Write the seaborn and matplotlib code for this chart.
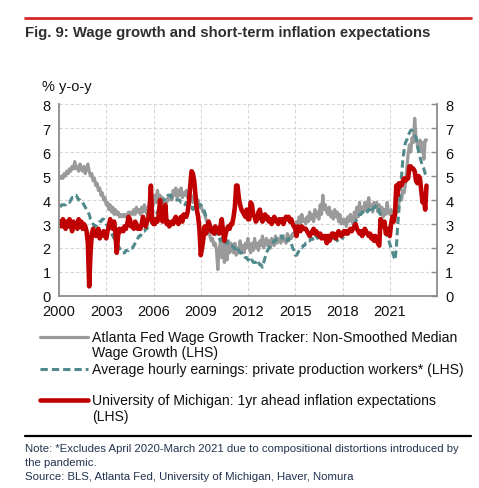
import numpy as np
import pandas as pd
import matplotlib
matplotlib.use("Agg")
import matplotlib.pyplot as plt
from matplotlib.lines import Line2D
import seaborn as sns

# monthly, Jan 2000 - Apr 2023, % y-o-y
atlanta = [
    4.9, 5.0, 4.9, 5.1, 5.0, 5.2, 5.1, 5.3, 5.2, 5.4, 5.3, 5.6,
    5.3, 5.4, 5.2, 5.5, 5.3, 5.2, 5.4, 5.1, 5.3, 5.5, 5.2, 5.0,
    5.1, 4.8, 4.9, 4.6, 4.7, 4.4, 4.5, 4.2, 4.3, 4.0, 4.1, 3.8,
    3.9, 3.6, 3.8, 3.5, 3.7, 3.4, 3.6, 3.4, 3.5, 3.3, 3.4, 3.3,
    3.4, 3.3, 3.4, 3.3, 3.5, 3.4, 3.5, 3.4, 3.6, 3.4, 3.7, 3.5,
    3.6, 3.4, 3.7, 3.5, 3.8, 3.6, 3.4, 3.7, 3.9, 3.6, 4.0, 3.8,
    4.2, 3.9, 4.4, 4.0, 4.2, 3.9, 4.1, 3.8, 4.0, 3.9, 4.1, 4.0,
    4.2, 4.0, 4.4, 4.2, 4.5, 4.1, 4.4, 4.2, 4.5, 4.1, 4.3, 4.2,
    4.4, 4.1, 4.3, 4.0, 4.2, 3.9, 4.1, 4.0, 3.8, 4.0, 3.7, 3.8,
    3.6, 3.5, 3.4, 3.2, 3.0, 2.8, 2.5, 2.3, 2.4, 2.1, 2.2, 1.9,
    1.1, 1.9, 2.3, 1.6, 2.2, 1.4, 2.1, 1.5, 2.3, 1.8, 2.2, 1.9,
    1.8, 2.2, 1.7, 2.0, 1.8, 2.3, 1.9, 2.1, 1.8, 2.2, 2.0, 2.4,
    2.0, 1.8, 2.2, 1.9, 2.4, 2.0, 2.2, 1.9, 2.3, 2.1, 2.5, 2.0,
    2.2, 2.4, 2.1, 2.3, 2.0, 2.4, 2.2, 2.1, 2.5, 2.2, 2.4, 2.3,
    2.2, 2.5, 2.3, 2.4, 2.2, 2.6, 2.3, 2.5, 2.4, 2.6, 2.5, 2.7,
    3.1, 2.9, 3.3, 3.0, 3.4, 3.1, 3.2, 3.0, 3.3, 3.1, 3.5, 3.2,
    3.4, 3.1, 3.6, 3.3, 3.5, 3.2, 3.8, 3.4, 4.2, 3.6, 3.8, 3.5,
    3.4, 3.7, 3.3, 3.5, 3.2, 3.6, 3.3, 3.5, 3.1, 3.4, 3.0, 3.2,
    3.0, 3.2, 2.9, 3.3, 3.1, 3.4, 3.2, 3.0, 3.5, 3.2, 3.7, 3.3,
    3.9, 3.4, 3.7, 3.5, 3.9, 3.6, 3.8, 4.1, 3.6, 3.8, 3.5, 3.9,
    3.7, 3.9, 3.5, 3.8, 3.4, 3.7, 3.3, 3.6, 3.4, 3.9, 3.5, 3.4,
    3.6, 3.2, 3.5, 3.3, 3.7, 3.5, 3.9, 4.1, 4.0, 4.4, 4.3, 4.7,
    5.3, 5.9, 6.3, 6.0, 6.6, 6.4, 7.4, 6.6, 6.3, 6.1, 6.5, 6.0,
    6.4, 5.7, 6.5, 6.5,
]

# None = Apr 2020 - Mar 2021, excluded
ahe = [
    3.7, 3.8, 3.8, 3.8, 3.8, 3.9, 3.9, 3.9, 4.0, 4.1, 4.1, 4.2,
    4.2, 4.1, 4.0, 4.0, 3.9, 3.9, 3.8, 3.7, 3.6, 3.5, 3.4, 3.2,
    3.1, 3.0, 2.9, 2.9, 3.0, 3.0, 3.1, 3.1, 3.2, 3.2, 3.1, 3.0,
    2.9, 2.8, 2.7, 2.6, 2.5, 2.4, 2.3, 2.2, 2.1, 2.0, 1.9, 1.8,
    1.8, 1.8, 1.9, 1.9, 1.9, 2.0, 2.0, 2.0, 2.1, 2.2, 2.3, 2.4,
    2.5, 2.5, 2.6, 2.7, 2.7, 2.8, 2.8, 2.9, 2.9, 3.0, 3.1, 3.2,
    3.3, 3.4, 3.5, 3.6, 3.8, 3.9, 4.0, 4.0, 4.1, 4.1, 4.2, 4.2,
    4.2, 4.1, 4.1, 4.0, 4.0, 4.0, 4.0, 4.0, 3.9, 3.9, 3.9, 3.8,
    3.9, 3.8, 3.8, 3.7, 3.7, 3.6, 3.7, 3.7, 3.6, 3.7, 3.8, 3.8,
    3.7, 3.6, 3.5, 3.3, 3.2, 3.1, 3.0, 2.8, 2.7, 2.6, 2.6, 2.5,
    2.5, 2.4, 2.3, 2.4, 2.3, 2.3, 2.2, 2.3, 2.2, 2.2, 2.1, 2.1,
    2.0, 2.0, 1.9, 2.0, 1.9, 1.8, 1.8, 1.7, 1.7, 1.6, 1.6, 1.5,
    1.5, 1.4, 1.5, 1.4, 1.4, 1.4, 1.5, 1.4, 1.3, 1.3, 1.2, 1.4,
    1.6, 1.8, 1.9, 2.0, 2.1, 2.1, 2.2, 2.3, 2.3, 2.4, 2.4, 2.5,
    2.5, 2.4, 2.5, 2.4, 2.4, 2.3, 2.4, 2.3, 2.2, 2.0, 1.9, 1.7,
    1.7, 1.8, 1.9, 2.0, 2.0, 2.1, 2.1, 2.2, 2.2, 2.3, 2.3, 2.4,
    2.4, 2.3, 2.4, 2.5, 2.4, 2.5, 2.4, 2.5, 2.5, 2.4, 2.5, 2.4,
    2.4, 2.5, 2.4, 2.4, 2.3, 2.4, 2.4, 2.3, 2.4, 2.4, 2.5, 2.4,
    2.5, 2.5, 2.6, 2.6, 2.7, 2.8, 2.8, 2.9, 3.0, 3.1, 3.2, 3.3,
    3.4, 3.4, 3.5, 3.5, 3.5, 3.6, 3.5, 3.6, 3.6, 3.7, 3.6, 3.7,
    3.7, 3.8, 3.7, None, None, None, None, None, None, None, None, None,
    None, None, None, 1.5, 2.0, 2.9, 3.6, 4.4, 5.0, 5.7, 6.1, 6.4,
    6.5, 6.7, 6.8, 6.9, 6.9, 6.8, 6.7, 6.6, 6.3, 6.0, 5.8, 5.6,
    5.4, 5.3, 5.1, 5.0,
]

michigan = [
    3.1, 2.9, 3.2, 3.0, 2.8, 3.1, 2.9, 3.2, 3.0, 2.7, 3.1, 2.9,
    3.0, 2.8, 3.2, 2.9, 3.1, 2.8, 3.0, 2.9, 2.7, 2.2, 0.4, 1.8,
    2.6, 2.8, 2.7, 2.5, 2.6, 2.8, 2.4, 2.5, 2.6, 2.7, 2.5, 2.4,
    2.7, 2.9, 3.2, 2.9, 2.8, 3.1, 2.6, 1.8, 2.5, 2.8, 2.7, 2.8,
    2.7, 2.9, 2.8, 3.0, 3.3, 3.2, 2.9, 2.9, 2.8, 3.1, 3.0, 2.8,
    2.9, 2.8, 3.0, 3.3, 3.1, 2.9, 3.1, 3.2, 3.6, 4.6, 3.1, 3.0,
    3.0, 3.2, 3.1, 3.4, 4.0, 3.2, 3.1, 3.3, 3.8, 3.0, 3.1, 2.9,
    3.0, 3.1, 3.0, 3.2, 3.3, 3.1, 3.0, 3.2, 3.3, 3.1, 3.4, 3.3,
    3.3, 3.5, 3.9, 4.6, 5.2, 5.1, 4.8, 4.2, 3.6, 3.3, 2.8, 1.7,
    2.0, 2.4, 2.9, 2.6, 2.8, 3.1, 2.9, 2.7, 2.8, 2.6, 2.9, 2.7,
    2.8, 2.6, 2.9, 3.2, 2.7, 2.3, 2.6, 2.8, 2.9, 2.8, 3.0, 3.0,
    3.3, 3.7, 4.6, 4.6, 4.1, 3.8, 3.6, 3.5, 3.4, 3.3, 3.6, 3.2,
    3.2, 3.9, 3.8, 3.4, 3.3, 3.1, 3.2, 3.5, 3.6, 3.3, 3.1, 3.3,
    3.4, 3.2, 3.3, 3.1, 3.2, 3.0, 3.1, 3.3, 3.2, 3.1, 3.0, 3.2,
    3.1, 3.2, 3.0, 3.2, 3.3, 3.2, 3.3, 3.1, 3.2, 3.0, 2.9, 2.8,
    2.5, 2.9, 2.8, 2.7, 2.9, 2.8, 2.8, 2.8, 2.7, 2.6, 2.5, 2.6,
    2.7, 2.8, 2.6, 2.7, 2.6, 2.5, 2.6, 2.4, 2.5, 2.4, 2.5, 2.2,
    2.5, 2.3, 2.4, 2.6, 2.6, 2.5, 2.4, 2.6, 2.7, 2.6, 2.5, 2.6,
    2.7, 2.6, 2.7, 2.6, 2.7, 2.8, 2.7, 2.8, 2.9, 3.0, 2.8, 2.7,
    2.6, 2.7, 2.5, 2.6, 2.8, 2.7, 2.6, 2.5, 2.6, 2.4, 2.5, 2.3,
    2.5, 2.4, 2.2, 2.1, 3.2, 3.0, 2.9, 3.1, 2.6, 2.6, 2.8, 2.5,
    3.0, 3.3, 3.1, 3.4, 4.6, 4.2, 4.7, 4.6, 4.6, 4.8, 4.9, 4.8,
    4.9, 4.9, 5.4, 5.4, 5.3, 5.3, 5.2, 4.8, 4.7, 5.0, 4.9, 4.4,
    3.9, 4.1, 3.6, 4.6,
]

year_ticks = [2000, 2003, 2006, 2009, 2012, 2015, 2018, 2021]
y_ticks = [0, 1, 2, 3, 4, 5, 6, 7, 8]

labels = {
    "atl": ["Atlanta Fed Wage Growth Tracker: Non-Smoothed Median", "Wage Growth (LHS)"],
    "ahe": ["Average hourly earnings: private production workers* (LHS)"],
    "umich": ["University of Michigan: 1yr ahead inflation expectations", "(LHS)"],
}

GREY = "#9a9a9a"
TEAL = "#508a8c"
RED = "#c00000"

dates = pd.date_range("2000-01-31", periods=len(michigan), freq="ME")
df = pd.DataFrame({
    "t": dates.year + dates.month / 12.0,
    "atl": atlanta,
    "ahe": pd.to_numeric(pd.Series(ahe), errors="coerce"),
    "umich": michigan,
})

sns.set_style("white")
plt.rcParams["font.family"] = ["Liberation Sans", "DejaVu Sans"]

W, H = 479, 489
fig = plt.figure(figsize=(W / 100, H / 100), dpi=100)
ax = fig.add_axes([59 / W, 1 - 297 / H, (437 - 59) / W, (297 - 105) / H])

sns.lineplot(data=df, x="t", y="atl", ax=ax, color=GREY, lw=2.3)
sns.lineplot(data=df.dropna(subset=["ahe"]), x="t", y="ahe", ax=ax, color=TEAL,
             lw=2.2, dashes=False, linestyle=(0, (2.4, 1.3)))
sns.lineplot(data=df, x="t", y="umich", ax=ax, color=RED, lw=3.3)

ax.set_xlim(2000, 2024)
ax.set_ylim(0, 8)
ax.set_xticks(year_ticks)
ax.set_yticks(y_ticks)
ax.set_xlabel("")
ax.set_ylabel("")
ax.grid(True, color="#d6d6d6", linestyle=(0, (3, 2)), lw=0.8)
ax.set_axisbelow(True)
for s in ["left", "right", "bottom"]:
    ax.spines[s].set_color("#8c8c8c")
    ax.spines[s].set_linewidth(1.3)
ax.spines["top"].set_visible(False)
ax.tick_params(axis="both", direction="in", length=4, width=1, color="#8c8c8c",
               labelsize=10.5, labelcolor="#111111", pad=6)
ax.tick_params(axis="y", right=True, labelright=True)

def fy(p):
    return 1 - p / H

# header / footer rules
fig.add_artist(Line2D([25 / W, 471 / W], [fy(19)] * 2, color="#d42a2a", lw=2))
fig.add_artist(Line2D([25 / W, 471 / W], [fy(437)] * 2, color="black", lw=1.6))

fig.text(25 / W, fy(33), "Fig. 9: Wage growth and short-term inflation expectations",
         fontsize=10.75, fontweight="bold", color="#2e2e2e", va="center")
fig.text(42 / W, fy(87), "% y-o-y", fontsize=10.5, color="#111111", va="center")

# legend
entries = [("atl", GREY, "-", 2.3, 338), ("ahe", TEAL, (0, (2.4, 1.3)), 2.2, 370),
           ("umich", RED, "-", 3.3, 401)]
for key, col, ls, lw, yp in entries:
    fig.add_artist(Line2D([40 / W, 88 / W], [fy(yp)] * 2, color=col, ls=ls, lw=lw))
    for i, line in enumerate(labels[key]):
        fig.text(92 / W, fy(yp + 15.5 * i), line, fontsize=10.1, color="#111111", va="center")

note_col = "#22324f"
fig.text(25 / W, fy(449), "Note: *Excludes April 2020-March 2021 due to compositional distortions introduced by",
         fontsize=8.2, color=note_col, va="center")
fig.text(25 / W, fy(463), "the pandemic.", fontsize=8.2, color=note_col, va="center")
fig.text(25 / W, fy(477), "Source: BLS, Atlanta Fed, University of Michigan, Haver, Nomura",
         fontsize=8.2, color=note_col, va="center")

fig.savefig("out.png", dpi=100)
